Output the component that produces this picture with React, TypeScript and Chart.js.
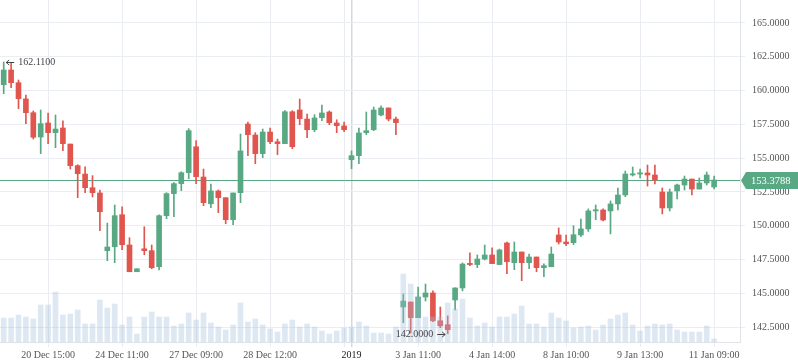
import React, { useEffect, useRef } from 'react';
import { Chart, registerables } from 'chart.js';

Chart.register(...registerables);

const SLOTS = 100;

const opens = [
  160.43, 161.52, 160.58, 159.38, 158.36, 156.56, 157.60, 156.88, 157.23, 156.04,
  154.44, 153.82, 152.81, 152.42, 148.15, 148.44, 150.81, 148.57, 146.59, 148.29,
  148.15, 146.96, 150.74, 152.37, 153.11, 153.92, 155.84, 153.60, 151.62, 152.57,
  152.07, 150.44, 152.44, 157.52, 156.71, 155.33, 156.93, 156.21, 156.07, 158.43,
  158.56, 157.89, 157.10, 157.99, 158.41, 157.60, 157.38, 154.88, 155.18, 156.88,
  157.10, 158.19, 158.71, 157.89, 143.98, 144.35, 143.19, 144.72, 145.02, 142.96,
  142.67, 144.50, 145.39, 147.19, 147.12, 147.53, 147.83, 147.12, 148.72, 147.26,
  148.05, 147.26, 147.68, 146.89, 146.96, 149.31, 148.79, 148.74, 149.31, 149.76,
  151.09, 151.16, 151.09, 151.61, 152.27, 153.75, 153.82, 153.90, 153.75, 152.49,
  151.31, 152.57, 153.01, 153.45, 152.71, 153.16, 152.86,
];
const highs = [
  162.11, 162.06, 160.78, 159.67, 158.49, 158.56, 158.34, 158.19, 157.75, 156.04,
  154.51, 154.36, 153.70, 152.64, 150.19, 151.53, 151.40, 149.11, 146.81, 149.92,
  148.57, 150.81, 152.44, 153.18, 153.99, 157.18, 156.29, 154.19, 153.08, 152.64,
  152.07, 152.42, 156.78, 157.67, 156.88, 157.15, 157.23, 156.41, 158.51, 158.51,
  159.37, 158.26, 158.21, 158.93, 158.49, 157.84, 157.67, 155.53, 157.23, 158.41,
  158.78, 158.86, 158.71, 158.04, 144.94, 144.35, 145.46, 145.68, 145.17, 143.98,
  143.32, 145.39, 147.24, 147.98, 147.83, 148.57, 148.35, 148.27, 148.79, 148.79,
  148.05, 147.90, 147.68, 147.18, 148.42, 149.83, 149.31, 150.00, 150.49, 151.24,
  151.53, 151.24, 151.83, 152.79, 154.04, 154.34, 154.19, 154.49, 154.49, 152.79,
  152.71, 153.08, 153.67, 153.45, 153.53, 153.97, 153.67,
];
const lows = [
  159.77, 160.21, 158.66, 157.55, 156.41, 155.33, 156.07, 155.77, 155.55, 154.19,
  152.07, 152.44, 152.12, 149.63, 147.41, 147.26, 148.22, 146.59, 146.59, 147.85,
  146.81, 146.72, 150.52, 150.66, 152.59, 153.47, 153.11, 151.48, 151.33, 150.96,
  150.14, 150.07, 151.70, 155.18, 154.59, 155.03, 156.07, 155.25, 156.07, 155.70,
  157.47, 156.51, 156.95, 157.77, 157.47, 156.88, 156.95, 154.22, 154.59, 156.73,
  157.03, 158.12, 157.75, 156.73, 142.82, 142.05, 143.19, 144.42, 142.89, 142.45,
  142.00, 143.76, 145.17, 147.04, 146.89, 147.46, 147.19, 147.12, 146.44, 146.74,
  145.93, 146.81, 146.59, 146.22, 146.96, 148.64, 148.52, 148.60, 149.18, 149.57,
  150.44, 150.35, 149.39, 151.16, 152.14, 153.67, 153.53, 152.93, 153.08, 150.87,
  151.09, 151.97, 152.64, 152.27, 152.71, 153.01, 152.71,
];
const closes = [
  161.52, 160.58, 159.40, 158.36, 156.54, 157.55, 156.88, 157.15, 156.07, 154.44,
  153.85, 152.81, 152.44, 151.03, 148.42, 150.74, 148.59, 146.59, 146.81, 148.15,
  146.89, 150.74, 152.37, 153.11, 153.92, 157.03, 153.62, 151.70, 152.57, 152.07,
  150.44, 152.42, 155.53, 156.73, 155.33, 156.93, 156.21, 156.07, 158.43, 155.84,
  157.92, 157.10, 157.97, 158.34, 157.62, 157.40, 157.10, 155.18, 156.86, 157.03,
  158.56, 158.71, 157.89, 157.62, 144.42, 143.19, 144.72, 145.02, 142.96, 142.59,
  142.30, 145.39, 147.16, 147.12, 147.53, 147.83, 147.19, 148.20, 147.33, 148.05,
  147.26, 147.68, 146.89, 147.04, 147.90, 148.79, 148.66, 149.33, 149.76, 151.09,
  151.16, 150.42, 151.61, 152.27, 153.82, 153.82, 153.90, 153.75, 153.38, 151.31,
  152.49, 153.01, 153.45, 152.71, 153.16, 153.75, 153.3788,
];
const volumes = [
  2400, 2400, 2700, 2500, 2300, 3700, 3700, 5000, 2700, 2800,
  3200, 1800, 1800, 4200, 3400, 3800, 1700, 2500, 800, 2500,
  3000, 2500, 2500, 1600, 1800, 2900, 2200, 2900, 1900, 1500,
  1200, 1700, 3900, 2000, 2300, 1700, 1300, 1000, 1800, 2200,
  1500, 1800, 1500, 1100, 800, 1100, 1400, 1500, 2000, 1600,
  900, 900, 800, 1500, 6800, 5800, 4500, 2500, 2500, 2500,
  3900, 3300, 4300, 2400, 1600, 1900, 1500, 2500, 2500, 2800,
  3600, 1800, 1800, 1500, 2900, 2400, 2100, 1400, 1500, 1600,
  1200, 1700, 2300, 2700, 2900, 1700, 1100, 1600, 1800, 1700,
  1800, 1200, 1000, 1000, 1000, 1600, 300,
];
const gridIndex = [6, 16, 26, 36, 46, 56, 66, 76, 86, 96];
const tickIndex = [6, 16, 26, 36, 47, 56, 66, 76, 86, 96];
const tickText = [
  '20 Dec 15:00', '24 Dec 11:00', '27 Dec 09:00', '28 Dec 12:00', '2019',
  '3 Jan 11:00', '4 Jan 14:00', '8 Jan 10:00', '9 Jan 13:00', '11 Jan 09:00',
];
const yearIndex = 47;
const priceTicks = [142.5, 145, 147.5, 150, 152.5, 155, 157.5, 160, 162.5, 165];
const lastPrice = 153.3788;
const priceMin = 141.39;
const priceMax = 166.7;
const volumeMax = 34200;

const GREEN = '#58a884';
const RED = '#e0564f';
const FONT = '"Liberation Serif", "Times New Roman", serif';

const categories = Array.from({ length: SLOTS }, (_, i) => {
  const k = tickIndex.indexOf(i);
  return k >= 0 ? tickText[k] : '';
});

const overlayPlugin = {
  id: 'overlay',
  beforeDatasetsDraw(chart: any) {
    const { ctx, chartArea, scales } = chart;
    const y = Math.round(scales.y.getPixelForValue(lastPrice)) + 0.5;
    ctx.save();
    ctx.strokeStyle = GREEN;
    ctx.lineWidth = 1;
    ctx.beginPath();
    ctx.moveTo(chartArea.left, y);
    ctx.lineTo(chartArea.right, y);
    ctx.stroke();
    ctx.restore();
  },
  afterDraw(chart: any) {
    const { ctx, chartArea, scales } = chart;
    ctx.save();
    // price tag
    const yc = Math.round(scales.y.getPixelForValue(lastPrice)) + 0.5;
    const x0 = chartArea.right + 1;
    ctx.fillStyle = GREEN;
    ctx.beginPath();
    ctx.moveTo(x0, yc);
    ctx.lineTo(x0 + 5, yc - 8.5);
    ctx.lineTo(chart.width, yc - 8.5);
    ctx.lineTo(chart.width, yc + 8.5);
    ctx.lineTo(x0 + 5, yc + 8.5);
    ctx.closePath();
    ctx.fill();
    ctx.fillStyle = '#ffffff';
    ctx.font = '10.5px ' + FONT;
    ctx.textAlign = 'left';
    ctx.textBaseline = 'middle';
    ctx.fillText(lastPrice.toFixed(4), x0 + 10, yc + 0.5);

    // max / min annotations
    let hi = 0;
    let lo = 0;
    highs.forEach((h, i) => { if (h > highs[hi]) hi = i; });
    lows.forEach((l, i) => { if (l < lows[lo]) lo = i; });
    ctx.strokeStyle = '#444';
    ctx.fillStyle = '#444';
    ctx.lineWidth = 1;
    ctx.font = '10px ' + FONT;

    const hx = scales.x.getPixelForValue(hi) + 2.5;
    const hy = Math.round(scales.y.getPixelForValue(highs[hi])) + 0.5;
    ctx.beginPath();
    ctx.moveTo(hx, hy);
    ctx.lineTo(hx + 8, hy);
    ctx.moveTo(hx + 3, hy - 2.5);
    ctx.lineTo(hx, hy);
    ctx.lineTo(hx + 3, hy + 2.5);
    ctx.stroke();
    ctx.textAlign = 'left';
    ctx.textBaseline = 'middle';
    ctx.fillText(highs[hi].toFixed(4), hx + 12, hy);

    const lx = scales.x.getPixelForValue(lo) - 2.5;
    const ly = Math.round(scales.y.getPixelForValue(lows[lo])) + 0.5;
    ctx.beginPath();
    ctx.moveTo(lx, ly);
    ctx.lineTo(lx - 8, ly);
    ctx.moveTo(lx - 3, ly - 2.5);
    ctx.lineTo(lx, ly);
    ctx.lineTo(lx - 3, ly + 2.5);
    ctx.stroke();
    ctx.textAlign = 'right';
    ctx.fillText(lows[lo].toFixed(4), lx - 12, ly);
    ctx.restore();
  },
};

export default function App() {
  const canvasRef = useRef<HTMLCanvasElement | null>(null);

  useEffect(() => {
    const canvas = canvasRef.current;
    if (!canvas) return;
    const colors = closes.map((c, i) => (c >= opens[i] ? GREEN : RED));
    const chart = new Chart(canvas, {
      type: 'bar',
      data: {
        labels: categories,
        datasets: [
          {
            label: 'volume',
            data: volumes,
            yAxisID: 'yVol',
            backgroundColor: 'rgba(160,190,222,0.35)',
            barThickness: 5,
            grouped: false,
            order: 0,
          } as any,
          {
            label: 'body',
            data: opens.map((o, i) => [o, closes[i]]),
            yAxisID: 'y',
            backgroundColor: colors,
            barThickness: 5,
            minBarLength: 1.2,
            grouped: false,
            order: 1,
          } as any,
          {
            label: 'wick',
            data: lows.map((l, i) => [l, highs[i]]),
            yAxisID: 'y',
            backgroundColor: colors,
            barThickness: 1,
            grouped: false,
            order: 2,
          } as any,
        ],
      },
      options: {
        animation: false,
        responsive: false,
        maintainAspectRatio: false,
        layout: { padding: 0 },
        plugins: { legend: { display: false }, tooltip: { enabled: false } },
        scales: {
          x: {
            type: 'category',
            offset: true,
            grid: {
              offset: false,
              drawTicks: true,
              tickLength: 5,
              color: (ctx: any) =>
                ctx.index === yearIndex ? '#d4d8dd' : gridIndex.includes(ctx.index) ? '#e9ecf0' : 'rgba(0,0,0,0)',
              lineWidth: (ctx: any) => (ctx.index === yearIndex ? 1.5 : 1),
            },
            border: { display: true, color: '#dfe2e6' },
            ticks: {
              autoSkip: false,
              maxRotation: 0,
              minRotation: 0,
              padding: 2,
              color: (ctx: any) => (ctx.index === yearIndex ? '#222' : '#555'),
              font: { family: FONT, size: 10 },
            },
            afterFit: (scale: any) => {
              scale.height = 21;
              scale.paddingLeft = 0;
              scale.paddingRight = 0;
            },
          },
          y: {
            type: 'linear',
            position: 'right',
            min: priceMin,
            max: priceMax,
            grid: { color: '#eaedf1', tickLength: 5, drawTicks: true },
            border: { display: true, color: '#dfe2e6' },
            ticks: {
              padding: 7,
              color: '#555',
              font: { family: FONT, size: 10 },
              callback: (v: any) => Number(v).toFixed(4),
            },
            afterBuildTicks: (scale: any) => {
              scale.ticks = priceTicks.map((v) => ({ value: v }));
            },
            afterFit: (scale: any) => {
              scale.width = 58;
              scale.paddingTop = 0;
              scale.paddingBottom = 0;
            },
          },
          yVol: {
            type: 'linear',
            display: false,
            min: 0,
            max: volumeMax,
          },
        },
      } as any,
      plugins: [overlayPlugin],
    });
    return () => chart.destroy();
  }, []);

  return (
    <div style={{ position: 'absolute', left: 0, top: 0, width: 798, height: 363, background: '#fff' }}>
      <canvas ref={canvasRef} width={798} height={363} />
    </div>
  );
}
